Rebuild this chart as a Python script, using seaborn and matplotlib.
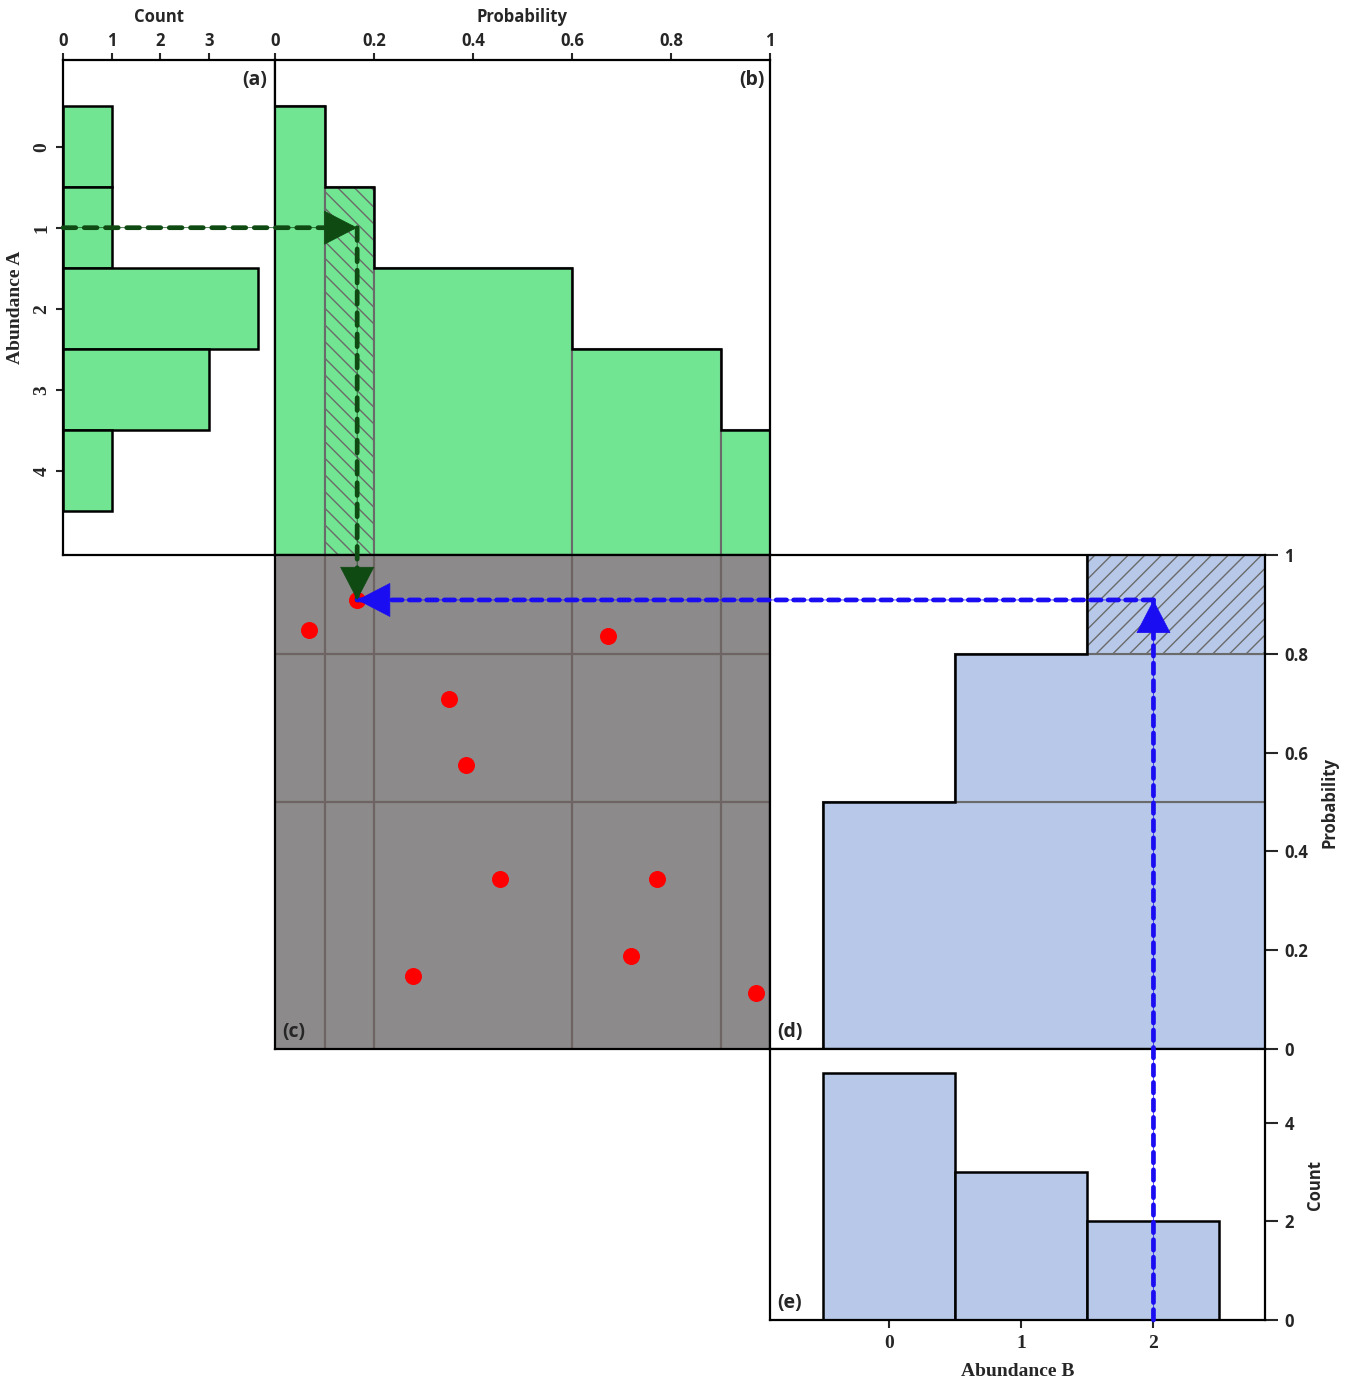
import numpy as np
import matplotlib
matplotlib.use('Agg')
import matplotlib.pyplot as plt
import seaborn as sns
from matplotlib.patches import ConnectionPatch

# ---------------- data ----------------
abund_a = [0, 1, 2, 3, 4]
count_a = [1, 1, 4, 3, 1]
abund_b = [0, 1, 2]
count_b = [5, 3, 2]
u_a = [0.166, 0.069, 0.673, 0.352, 0.386, 0.455, 0.772, 0.279, 0.719, 0.972]
u_b = [0.909, 0.848, 0.836, 0.709, 0.575, 0.344, 0.344, 0.148, 0.188, 0.113]
count_a_ticks = [0, 1, 2, 3]
prob_ticks = [0, 0.2, 0.4, 0.6, 0.8, 1]
count_b_ticks = [0, 2, 4]
panel_labels = ['(a)', '(b)', '(c)', '(d)', '(e)']

# ---------------- style ----------------
sns.set_style('ticks')
SANS = ['Open Sans', 'DejaVu Sans']
SERIF = ['Liberation Serif', 'DejaVu Serif']
plt.rcParams['font.family'] = SANS
plt.rcParams['hatch.linewidth'] = 1.0

GREEN = '#72E592'
BLUE = '#B7C8E8'
GRAY = '#8C8A8A'
GRID = '#6E6464'
EDGE = '#6A6A6A'
ARROW_G = '#0E4A12'
ARROW_B = '#1A0DF2'

p_a = np.array(count_a) / np.sum(count_a)
cum_a = np.cumsum(p_a)
p_b = np.array(count_b) / np.sum(count_b)
cum_b = np.cumsum(p_b)

W, H = 1350, 1388
fig = plt.figure(figsize=(W / 100, H / 100), dpi=100)


def rect(x0, x1, y0, y1):
    return [x0 / W, 1 - y1 / H, (x1 - x0) / W, (y1 - y0) / H]


axA = fig.add_axes(rect(63, 275, 60, 555))
axB = fig.add_axes(rect(275, 770, 60, 555))
axC = fig.add_axes(rect(275, 770, 555, 1049))
axD = fig.add_axes(rect(770, 1265, 555, 1049))
axE = fig.add_axes(rect(770, 1265, 1049, 1320))

YA = (5.04, -1.07)      # abundance A axis (inverted)
XB = (-0.905, 2.845)    # abundance B axis

# ---------------- (a) histogram of abundance A ----------------
sns.barplot(x=count_a, y=abund_a, orient='h', width=1, color=GREEN,
            saturation=1, edgecolor='black', linewidth=1.8, errorbar=None, ax=axA)
axA.set_xlim(0, 4.35)
axA.set_ylim(*YA)

# ---------------- (b) cumulative probability for A ----------------
left_a = np.r_[0, cum_a[:-1]]
sel_a = int(np.searchsorted(cum_a, u_a[0], side='right'))
for k, a in enumerate(abund_a):
    axB.bar(left_a[k], YA[0] - (a - 0.5), bottom=a - 0.5, width=p_a[k], align='edge',
            color=GREEN, edgecolor=EDGE, linewidth=1.5,
            hatch='\\\\' if k == sel_a else None, zorder=2)
axB.stairs(np.array(abund_a) - 0.5, np.r_[0, cum_a], baseline=None,
           color='black', linewidth=1.8, zorder=3)
axB.set_xlim(0, 1)
axB.set_ylim(*YA)

# ---------------- (c) uniform samples ----------------
axC.set_facecolor(GRAY)
for c in cum_a[:-1]:
    axC.axvline(c, color=GRID, linewidth=1.6, zorder=1)
for c in cum_b[:-1]:
    axC.axhline(c, color=GRID, linewidth=1.6, zorder=1)
sns.scatterplot(x=u_a, y=u_b, color='#FF0000', s=150, linewidth=0, ax=axC, zorder=3)
axC.set_xlim(0, 1)
axC.set_ylim(0, 1)
axC.set_xticks([])
axC.set_yticks([])

# ---------------- (d) cumulative probability for B ----------------
low_b = np.r_[0, cum_b[:-1]]
sel_b = int(np.searchsorted(cum_b, u_b[0], side='right'))
for k, b in enumerate(abund_b):
    axD.barh(low_b[k], XB[1] - (b - 0.5), left=b - 0.5, height=p_b[k], align='edge',
             color=BLUE, edgecolor=EDGE, linewidth=1.5,
             hatch='//' if k == sel_b else None, zorder=2)
axD.stairs(np.array(abund_b) - 0.5, np.r_[0, cum_b], orientation='horizontal',
           baseline=None, color='black', linewidth=1.8, zorder=3)
axD.set_xlim(*XB)
axD.set_ylim(0, 1)

# ---------------- (e) histogram of abundance B ----------------
sns.barplot(x=abund_b, y=count_b, width=1, color=BLUE, saturation=1,
            edgecolor='black', linewidth=1.8, errorbar=None, ax=axE)
axE.set_xlim(*XB)
axE.set_ylim(0, 5.49)

# ---------------- axes decoration ----------------
for ax in (axA, axB, axC, axD, axE):
    for s in ax.spines.values():
        s.set_linewidth(1.6)
        s.set_color('black')
        s.set_visible(True)

tick_kw = dict(fontsize=12, fontweight='bold', family=SANS)
serif_kw = dict(fontsize=14, fontweight='bold', family=SERIF)

# (a)
axA.xaxis.tick_top()
axA.set_xticks(count_a_ticks, [f'{t:g}' for t in count_a_ticks], **tick_kw)
axA.tick_params(axis='x', top=True, bottom=False, labeltop=True, labelbottom=False,
                length=5, width=1.5, pad=2, direction='out')
axA.set_yticks(abund_a, [str(v) for v in abund_a], rotation=90, va='center', **serif_kw)
axA.tick_params(axis='y', left=True, right=False, length=5, width=1.5, pad=4)
axA.xaxis.set_label_position('top')
axA.set_xlabel('Count', fontsize=12, fontweight='bold')
axA.xaxis.set_label_coords(0.455, 1.087)
axA.xaxis.label.set_va('center')
axA.set_ylabel('Abundance A', labelpad=7, **serif_kw)

# (b)
axB.xaxis.tick_top()
axB.set_xticks(prob_ticks, [f'{t:g}' for t in prob_ticks], **tick_kw)
axB.tick_params(axis='x', top=True, bottom=False, labeltop=True, labelbottom=False,
                length=5, width=1.5, pad=2, direction='out')
axB.set_yticks([])
axB.xaxis.set_label_position('top')
axB.set_xlabel('Probability', fontsize=12, fontweight='bold')
axB.xaxis.set_label_coords(0.5, 1.087)
axB.xaxis.label.set_va('center')

# (d)
axD.set_xticks([])
axD.yaxis.tick_right()
axD.set_yticks(prob_ticks, [f'{t:g}' for t in prob_ticks], **tick_kw)
axD.tick_params(axis='y', left=False, right=True, labelleft=False, labelright=True,
                length=9, width=1.5, pad=5)
axD.yaxis.set_label_position('right')
axD.set_ylabel('Probability', fontsize=12, fontweight='bold', labelpad=9)

# (e)
axE.set_xticks(abund_b, [str(v) for v in abund_b], **serif_kw)
axE.tick_params(axis='x', bottom=True, length=6, width=1.5, pad=5)
axE.yaxis.tick_right()
axE.set_yticks(count_b_ticks, [f'{t:g}' for t in count_b_ticks], **tick_kw)
axE.tick_params(axis='y', left=False, right=True, labelleft=False, labelright=True,
                length=9, width=1.5, pad=5)
axE.yaxis.set_label_position('right')
axE.set_ylabel('Count', fontsize=12, fontweight='bold', labelpad=9)
axE.set_xlabel('Abundance B', labelpad=8, **serif_kw)

# panel letters
lab_kw = dict(fontsize=14, fontweight='bold', textcoords='offset points')
axA.annotate(panel_labels[0], xy=(1, 1), xycoords='axes fraction', xytext=(-6, -7),
             ha='right', va='top', **lab_kw)
axB.annotate(panel_labels[1], xy=(1, 1), xycoords='axes fraction', xytext=(-4, -7),
             ha='right', va='top', **lab_kw)
axC.annotate(panel_labels[2], xy=(0, 0), xycoords='axes fraction', xytext=(5, 5),
             ha='left', va='bottom', **lab_kw)
axD.annotate(panel_labels[3], xy=(0, 0), xycoords='axes fraction', xytext=(5, 5),
             ha='left', va='bottom', **lab_kw)
axE.annotate(panel_labels[4], xy=(0, 0), xycoords='axes fraction', xytext=(5, 5),
             ha='left', va='bottom', **lab_kw)

# ---------------- sampling arrows ----------------
HEAD = '-|>,head_length=23,head_width=11.9'


def seg(pA, axa, pB, axb, color, dashes, head=True):
    line = ConnectionPatch(pA, pB, coordsA=axa.transData, coordsB=axb.transData,
                           arrowstyle='-', color=color, linewidth=3.4,
                           linestyle=(0, dashes), annotation_clip=False, zorder=10)
    fig.add_artist(line)
    if head:
        hd = ConnectionPatch(pA, pB, coordsA=axa.transData, coordsB=axb.transData,
                             arrowstyle=HEAD, mutation_scale=1, color=color,
                             linewidth=0.5, annotation_clip=False, zorder=11)
        fig.add_artist(hd)


# green: abundance A sampled from u_a
seg((0, sel_a), axA, (u_a[0], sel_a), axB, ARROW_G, (2.7, 1.8))
seg((u_a[0], sel_a), axB, (u_a[0], u_b[0]), axC, ARROW_G, (2.7, 1.8))
# blue: abundance B sampled from u_b
seg((sel_b, 0), axE, (sel_b, u_b[0]), axD, ARROW_B, (2.2, 1.5))
seg((sel_b, u_b[0]), axD, (u_a[0], u_b[0]), axC, ARROW_B, (2.2, 1.5))

fig.savefig('out.png', dpi=100)
